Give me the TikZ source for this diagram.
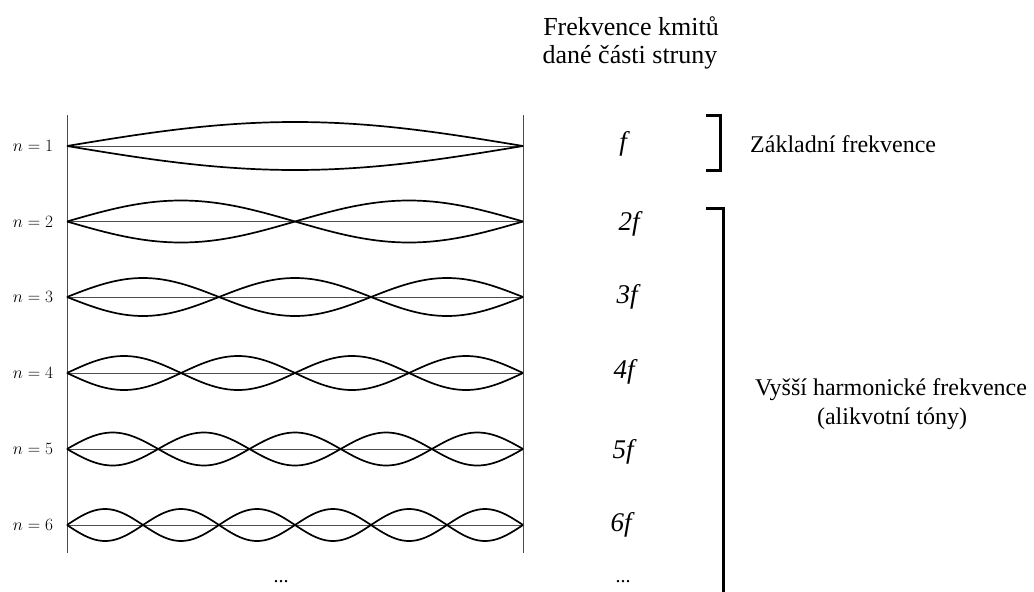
\documentclass[tikz,border=0pt]{standalone}
\usepackage[no-math]{fontspec}
\setmainfont{Liberation Serif}
\begin{document}
\begin{tikzpicture}[x=1pt,y=-1pt,
  wire/.style={line width=0.8pt, black!70},
  wave/.style={line width=1.7pt, black},
  brk/.style={line width=3pt, black, line cap=butt, line join=miter},
  lab/.style={font=\fontsize{17}{20}\selectfont, inner sep=0pt},
  freq/.style={font=\fontsize{27}{30}\selectfont\itshape, inner sep=0pt},
  txt/.style={font=\fontsize{24}{28}\selectfont, inner sep=0pt},
  ttl/.style={font=\fontsize{26}{30}\selectfont, inner sep=0pt},
  dots/.style={font=\fontsize{20}{24}\selectfont, inner sep=0pt}]
\useasboundingbox (0,0) rectangle (1034,592);
% string supports
\coordinate (LT) at (67,115);
\coordinate (LB) at (67,553);
\coordinate (RT) at (523,115);
\coordinate (RB) at (523,553);
\draw[wire] (LT) -- (LB);
\draw[wire] (RT) -- (RB);
% modes
\foreach \n/\yy/\a in {1/146/24,2/221.5/21,3/297/19,4/373/17,5/449/16.5,6/525/16} {
  \coordinate (a\n) at (67,\yy);
  \coordinate (b\n) at (523,\yy);
  \draw[wire] (a\n) -- (b\n);
  \draw[wave] plot[domain=67:523, samples=160, smooth] (\x, {\yy - \a*sin(((\x-67)/456)*\n*180)});
  \draw[wave] plot[domain=67:523, samples=160, smooth] (\x, {\yy + \a*sin(((\x-67)/456)*\n*180)});
  \node[lab] (n\n) at (33,\yy) {$n=\n$};
}
% frequencies
\node[freq] (f1) at (623,144) {f};
\node[freq] (f2) at (629,224) {2f};
\node[freq] (f3) at (627,297) {3f};
\node[freq] (f4) at (624,372) {4f};
\node[freq] (f5) at (623,452) {5f};
\node[freq] (f6) at (621,525) {6f};
\node[dots, anchor=base] (d1) at (623,582) {...};
\node[dots, anchor=base] (d0) at (281,582) {...};
% title
\node[ttl, anchor=base] (t1) at (631,35) {Frekvence kmitů};
\node[ttl, anchor=base] (t2) at (630,63) {dané části struny};
% brackets
\coordinate (p1) at (706,115);
\coordinate (p2) at (720,115);
\coordinate (p3) at (720,170);
\coordinate (p4) at (706,170);
\draw[brk] (p1) -- (p2) -- (p3) -- (p4);
\coordinate (q1) at (706,208);
\coordinate (q2) at (723,208);
\coordinate (q3) at (723,600);
\draw[brk] (q1) -- (q2) -- (q3);
\node[txt, anchor=base west] (zf) at (750,152) {Základní frekvence};
\node[txt, anchor=base] (v1) at (891,395) {Vyšší harmonické frekvence};
\node[txt, anchor=base] (v2) at (892,424) {(alikvotní tóny)};
\end{tikzpicture}
\end{document}
